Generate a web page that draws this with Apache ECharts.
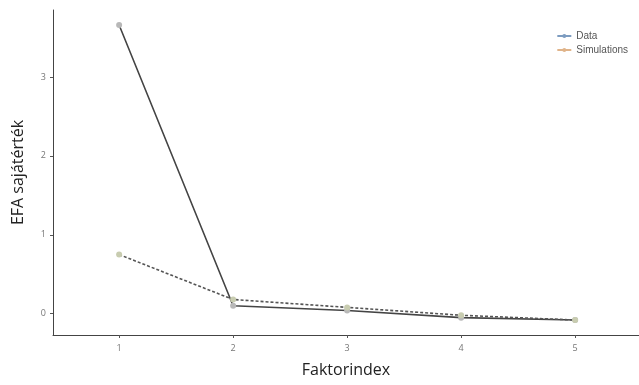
<!DOCTYPE html>
<html lang="hu">
<head>
    <meta charset="UTF-8">
    <title>EFA sajátérték</title>
    <script src="https://cdn.jsdelivr.net/npm/echarts@6/dist/echarts.min.js"></script>
</head>
<body style="margin:0;">
    <div id="main" style="width: 639px;height:385px;"></div>
<script>
    // adatok
    var factors = [1, 2, 3, 4, 5];
    var dataValues = [3.66, 0.10, 0.04, -0.05, -0.08];
    var simValues = [0.75, 0.18, 0.08, -0.02, -0.08];
    var yTicks = [0, 1, 2, 3];

    function pairs(vals) {
        return factors.map(function (f, i) { return [f, vals[i]]; });
    }

    var myChart = echarts.init(document.getElementById('main'));
    myChart.setOption({
        animation: false,
        textStyle: { fontFamily: 'Open Sans' },
        grid: { left: 53, right: 0, top: 10, bottom: 50 },
        legend: {
            orient: 'vertical',
            right: 6,
            top: 26,
            itemWidth: 14,
            itemHeight: 5,
            itemGap: 4,
            textStyle: { fontSize: 10, color: '#555', fontFamily: 'Liberation Sans' },
            data: [
                { name: 'Data', itemStyle: { color: '#7d9cc0' }, lineStyle: { color: '#7d9cc0', type: 'solid' } },
                { name: 'Simulations', itemStyle: { color: '#e0b48a' }, lineStyle: { color: '#e0b48a', type: 'solid' } }
            ]
        },
        xAxis: {
            type: 'value',
            min: 0.42,
            max: 5.56,
            name: 'Faktorindex',
            nameLocation: 'middle',
            nameGap: 27,
            nameTextStyle: { fontSize: 16, color: '#222' },
            axisLine: { onZero: false, lineStyle: { color: '#444', width: 1 } },
            axisTick: { lineStyle: { color: '#555' }, length: 3, customValues: factors },
            axisLabel: { fontSize: 9, color: '#777', margin: 9, customValues: factors },
            splitLine: { show: false }
        },
        yAxis: {
            type: 'value',
            min: -0.27,
            max: 3.85,
            name: 'EFA sajátérték',
            nameLocation: 'middle',
            nameGap: 27,
            nameTextStyle: { fontSize: 16, color: '#222' },
            axisLine: { show: true, onZero: false, lineStyle: { color: '#444', width: 1 } },
            axisTick: { show: true, lineStyle: { color: '#555' }, length: 3, customValues: yTicks },
            axisLabel: { fontSize: 9, color: '#777', margin: 7, customValues: yTicks },
            splitLine: { show: false }
        },
        series: [
            {
                name: 'Data',
                type: 'line',
                data: pairs(dataValues),
                symbol: 'circle',
                symbolSize: 6,
                itemStyle: { color: '#b8b8b8' },
                lineStyle: { color: '#444', width: 1.6, type: 'solid' }
            },
            {
                name: 'Simulations',
                type: 'line',
                data: pairs(simValues),
                symbol: 'circle',
                symbolSize: 6,
                itemStyle: { color: '#c8ccb0' },
                lineStyle: { color: '#555', width: 1.6, type: [3, 2] }
            }
        ]
    });
</script>
</body>
</html>
